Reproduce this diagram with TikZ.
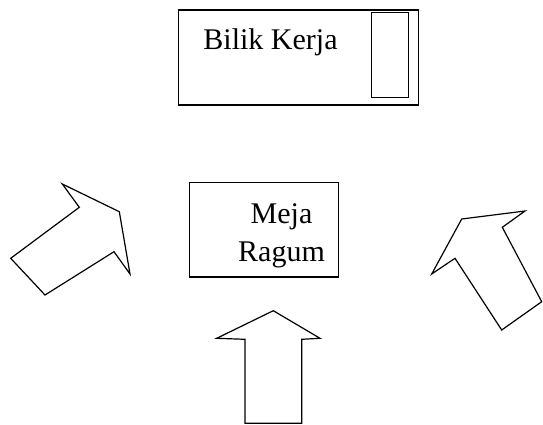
\documentclass[tikz,border=0pt]{standalone}
\usepackage{fontspec}
\setmainfont{Liberation Serif}
\begin{document}
\begin{tikzpicture}[x=1pt,y=-1pt,
  box/.style={draw,line width=1.4pt,inner sep=0pt,minimum width=#1},
  lbl/.style={anchor=base,inner sep=0pt,font=\fontsize{30}{36}\selectfont},
  arrowshape/.style={draw,line width=1.2pt,line join=miter}]
\useasboundingbox (0,0) rectangle (543,425);
% top box
\node[box=239.8pt,minimum height=95pt] (bilik) at (298.4,57.5) {};
\node[box=36.6pt,minimum height=85pt] (slot) at (390,55.2) {};
\node[lbl] (biliktxt) at (270.5,50) {Bilik Kerja};
% middle box
\node[box=149.2pt,minimum height=94.3pt] (meja) at (263.9,229.85) {};
\node[lbl] (mejatxt) at (281.5,223.3) {Meja};
\node[lbl] (ragumtxt) at (281.5,261.7) {Ragum};
% left arrow
\draw[arrowshape] (62.3,184) -- (119.3,211.7) -- (130,274) -- (114,251.7)
  -- (45,295) -- (10.7,258.3) -- (79.3,207.3) -- cycle;
% right arrow
\draw[arrowshape] (525,211) -- (461.7,219) -- (431.7,274) -- (455,258.3)
  -- (501.7,330) -- (541.7,301.7) -- (502.3,227.3) -- cycle;
% bottom arrow
\draw[arrowshape] (273.3,310.7) -- (320,338.3) -- (301.7,339.3) -- (301.7,423.3)
  -- (245,423.3) -- (245,339.3) -- (216.7,338.3) -- cycle;
\end{tikzpicture}
\end{document}
